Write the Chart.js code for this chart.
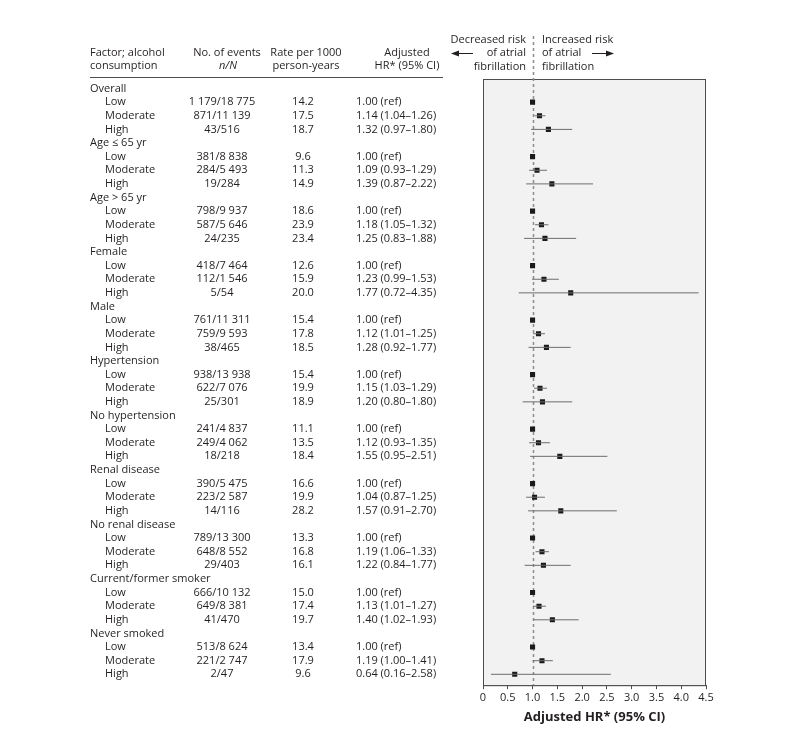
<!DOCTYPE html>
<html lang="en">
<head>
<meta charset="UTF-8">
<title>Alcohol consumption and atrial fibrillation</title>
<script src="https://cdn.jsdelivr.net/npm/chart.js"></script>
<style>
  * { margin:0; padding:0; box-sizing:border-box; }
  body { background:#fff; width:791px; height:751px; overflow:hidden; }
</style>
</head>
<body>
<canvas id="forest" width="791" height="751"></canvas>
<script>
const groups = ['Overall', 'Age \u2264 65 yr', 'Age > 65 yr', 'Female', 'Male', 'Hypertension',
  'No hypertension', 'Renal disease', 'No renal disease', 'Current/former smoker', 'Never smoked'];
const levels = ['Low', 'Moderate', 'High'];
const events = [
  ['1 179/18 775', '871/11 139', '43/516'],
  ['381/8 838', '284/5 493', '19/284'],
  ['798/9 937', '587/5 646', '24/235'],
  ['418/7 464', '112/1 546', '5/54'],
  ['761/11 311', '759/9 593', '38/465'],
  ['938/13 938', '622/7 076', '25/301'],
  ['241/4 837', '249/4 062', '18/218'],
  ['390/5 475', '223/2 587', '14/116'],
  ['789/13 300', '648/8 552', '29/403'],
  ['666/10 132', '649/8 381', '41/470'],
  ['513/8 624', '221/2 747', '2/47']
];
const rates = [
  ['14.2', '17.5', '18.7'], ['9.6', '11.3', '14.9'], ['18.6', '23.9', '23.4'],
  ['12.6', '15.9', '20.0'], ['15.4', '17.8', '18.5'], ['15.4', '19.9', '18.9'],
  ['11.1', '13.5', '18.4'], ['16.6', '19.9', '28.2'], ['13.3', '16.8', '16.1'],
  ['15.0', '17.4', '19.7'], ['13.4', '17.9', '9.6']
];
// [low, moderate, high] hazard ratios and CI bounds; low is the reference
const hr = [
  [1.00, 1.14, 1.32], [1.00, 1.09, 1.39], [1.00, 1.18, 1.25], [1.00, 1.23, 1.77],
  [1.00, 1.12, 1.28], [1.00, 1.15, 1.20], [1.00, 1.12, 1.55], [1.00, 1.04, 1.57],
  [1.00, 1.19, 1.22], [1.00, 1.13, 1.40], [1.00, 1.19, 0.64]
];
const ciLow = [
  [null, 1.04, 0.97], [null, 0.93, 0.87], [null, 1.05, 0.83], [null, 0.99, 0.72],
  [null, 1.01, 0.92], [null, 1.03, 0.80], [null, 0.93, 0.95], [null, 0.87, 0.91],
  [null, 1.06, 0.84], [null, 1.01, 1.02], [null, 1.00, 0.16]
];
const ciHigh = [
  [null, 1.26, 1.80], [null, 1.29, 2.22], [null, 1.32, 1.88], [null, 1.53, 4.35],
  [null, 1.25, 1.77], [null, 1.29, 1.80], [null, 1.35, 2.51], [null, 1.25, 2.70],
  [null, 1.33, 1.77], [null, 1.27, 1.93], [null, 1.41, 2.58]
];
const xTicks = [0, 0.5, 1, 1.5, 2, 2.5, 3, 3.5, 4, 4.5];
const refValue = 1;

// one row per group header and per alcohol level
const rows = [];
groups.forEach((g, gi) => {
  rows.push({ label: g, header: true });
  levels.forEach((lv, li) => {
    const ref = ciLow[gi][li] === null;
    rows.push({
      label: lv, header: false,
      events: events[gi][li], rate: rates[gi][li],
      hr: hr[gi][li], lo: ciLow[gi][li], hi: ciHigh[gi][li],
      hrText: ref ? hr[gi][li].toFixed(2) + ' (ref)'
        : hr[gi][li].toFixed(2) + ' (' + ciLow[gi][li].toFixed(2) + '\u2013' + ciHigh[gi][li].toFixed(2) + ')'
    });
  });
});

const points = [];
const ciLines = [];
rows.forEach((r, i) => {
  if (r.header) return;
  points.push({ x: r.hr, y: i });
  if (r.lo !== null) {
    ciLines.push({ x: r.lo, y: i }, { x: r.hi, y: i }, { x: null, y: null });
  }
});

const FONT = '"Open Sans", sans-serif';
const TEXT = '#231f20';

const panelPlugin = {
  id: 'panel',
  beforeDatasetsDraw(chart) {
    const { ctx, chartArea: a, scales } = chart;
    ctx.save();
    ctx.fillStyle = '#f2f2f2';
    ctx.fillRect(a.left, a.top, a.right - a.left, a.bottom - a.top);
    ctx.strokeStyle = '#4d4d4d';
    ctx.lineWidth = 1;
    ctx.strokeRect(a.left + 0.5, a.top + 0.5, a.right - a.left - 1, a.bottom - a.top);
    // reference line runs up into the header
    const x = Math.round(scales.x.getPixelForValue(refValue)) + 0.5;
    ctx.strokeStyle = '#8c8c8c';
    ctx.lineWidth = 1.5;
    ctx.setLineDash([3, 3]);
    ctx.beginPath();
    ctx.moveTo(x, 36);
    ctx.lineTo(x, a.bottom);
    ctx.stroke();
    ctx.restore();
  },
  afterDraw(chart) {
    const { ctx, scales } = chart;
    const ys = scales.y;
    ctx.save();
    ctx.fillStyle = TEXT;
    ctx.textBaseline = 'middle';
    ctx.font = '11px ' + FONT;

    // column headers
    ctx.textAlign = 'left';
    ctx.fillText('Factor; alcohol', 90, 53);
    ctx.fillText('consumption', 90, 66);
    ctx.textAlign = 'center';
    ctx.fillText('No. of events', 227, 53);
    ctx.fillText('Rate per 1000', 306, 53);
    ctx.fillText('person-years', 306, 66);
    ctx.fillText('Adjusted', 407, 53);
    ctx.fillText('HR* (95% CI)', 407, 66);
    ctx.font = 'italic 11px ' + FONT;
    ctx.fillText('n/N', 228, 66);
    ctx.font = '11px ' + FONT;

    ctx.strokeStyle = '#4d4d4d';
    ctx.lineWidth = 1;
    ctx.beginPath();
    ctx.moveTo(90, 77.5);
    ctx.lineTo(443, 77.5);
    ctx.stroke();

    // direction labels
    ctx.textAlign = 'right';
    ctx.fillText('Decreased risk', 526, 40);
    ctx.fillText('of atrial', 526, 53);
    ctx.fillText('fibrillation', 526, 67);
    ctx.textAlign = 'left';
    ctx.fillText('Increased risk', 542, 40);
    ctx.fillText('of atrial', 542, 53);
    ctx.fillText('fibrillation', 542, 67);
    ctx.strokeStyle = '#231f20';
    ctx.fillStyle = '#231f20';
    ctx.beginPath();
    ctx.moveTo(456, 53.5); ctx.lineTo(473, 53.5);
    ctx.moveTo(592, 53.5); ctx.lineTo(609, 53.5);
    ctx.stroke();
    ctx.beginPath();
    ctx.moveTo(451, 53.5); ctx.lineTo(459, 50.5); ctx.lineTo(459, 56.5); ctx.closePath();
    ctx.moveTo(614, 53.5); ctx.lineTo(606, 50.5); ctx.lineTo(606, 56.5); ctx.closePath();
    ctx.fill();

    // table rows
    ctx.fillStyle = TEXT;
    rows.forEach((r, i) => {
      const y = ys.getPixelForValue(i);
      ctx.textAlign = 'left';
      if (r.header) {
        ctx.fillText(r.label, 90, y);
        return;
      }
      ctx.fillText(r.label, 105, y);
      ctx.textAlign = 'center';
      ctx.fillText(r.events, 222, y);
      ctx.fillText(r.rate, 303, y);
      ctx.textAlign = 'left';
      ctx.fillText(r.hrText, 356, y);
    });
    ctx.restore();
  }
};

new Chart(document.getElementById('forest'), {
  type: 'scatter',
  data: {
    datasets: [
      {
        data: ciLines,
        showLine: true,
        spanGaps: false,
        borderColor: '#6d6d6d',
        borderWidth: 1,
        pointRadius: 0
      },
      {
        data: points,
        pointStyle: 'rect',
        pointRadius: 3.6,
        backgroundColor: '#1a1a1a',
        borderColor: '#1a1a1a',
        borderWidth: 0
      }
    ]
  },
  options: {
    responsive: false,
    animation: false,
    events: [],
    layout: { padding: { left: 483, right: 85, top: 79, bottom: 26 } },
    plugins: { legend: { display: false }, tooltip: { enabled: false } },
    scales: {
      x: {
        type: 'linear',
        min: 0,
        max: 4.5,
        afterBuildTicks: s => { s.ticks = xTicks.map(v => ({ value: v })); },
        ticks: {
          color: TEXT,
          font: { family: FONT, size: 11 },
          padding: 2,
          maxRotation: 0,
          callback: v => v === 0 ? '0' : v.toFixed(1)
        },
        grid: { display: true, drawOnChartArea: false, drawTicks: true, tickLength: 4, color: '#4d4d4d' },
        border: { display: true, color: '#4d4d4d' },
        title: {
          display: true,
          text: 'Adjusted HR* (95% CI)',
          color: TEXT,
          font: { family: FONT, size: 13, weight: 'bold' },
          padding: { top: 3, bottom: 0 }
        }
      },
      y: {
        type: 'linear',
        display: false,
        reverse: true,
        min: -0.7,
        max: 43.8
      }
    }
  },
  plugins: [panelPlugin]
});
</script>
</body>
</html>
